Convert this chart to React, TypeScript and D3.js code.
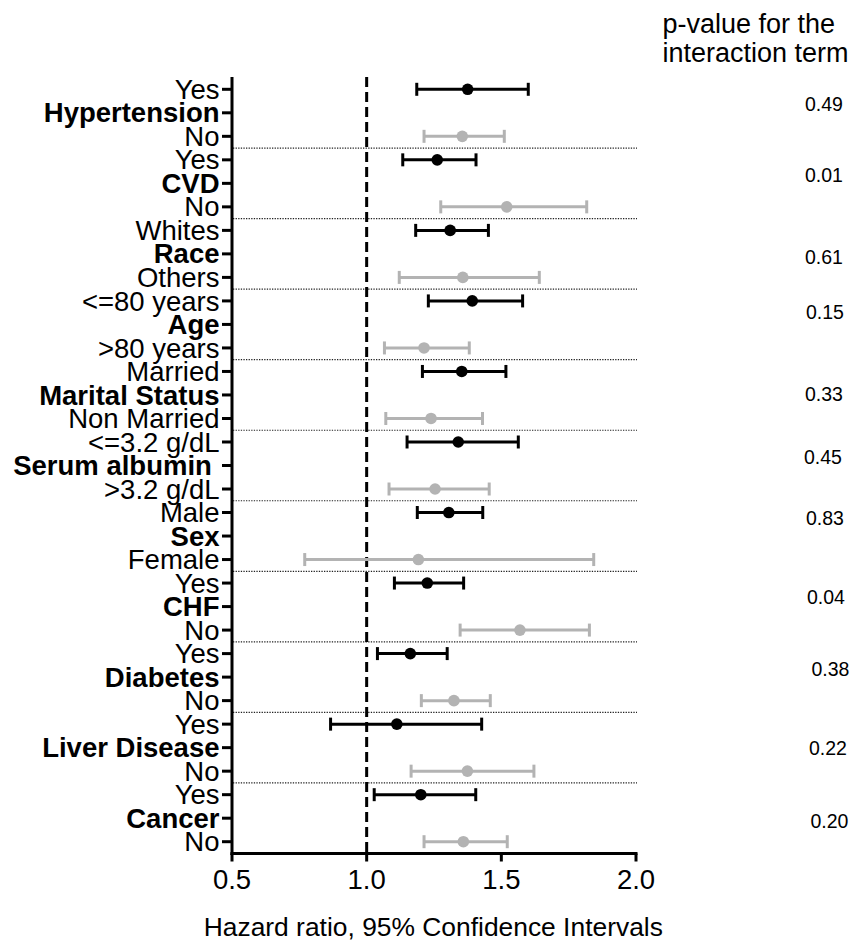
import React from "react";
import * as d3 from "d3";

// ---- Data ----
const groups = [
  "Hypertension", "CVD", "Race", "Age", "Marital Status", "Serum albumin\u00A0",
  "Sex", "CHF", "Diabetes", "Liver Disease", "Cancer",
];
const subgroupA = ["Yes", "Yes", "Whites", "<=80 years", "Married", "<=3.2 g/dL", "Male", "Yes", "Yes", "Yes", "Yes"];
const subgroupB = ["No", "No", "Others", ">80 years", "Non Married", ">3.2 g/dL", "Female", "No", "No", "No", "No"];

// Hazard ratio estimates and 95% CI for first subgroup (black)
const estA = [1.375, 1.262, 1.310, 1.392, 1.353, 1.340, 1.305, 1.225, 1.162, 1.112, 1.201];
const lowA = [1.186, 1.134, 1.182, 1.229, 1.207, 1.150, 1.188, 1.103, 1.040, 0.866, 1.028];
const highA = [1.600, 1.406, 1.452, 1.579, 1.517, 1.563, 1.431, 1.360, 1.299, 1.427, 1.405];

// second subgroup (grey)
const estB = [1.355, 1.520, 1.357, 1.213, 1.239, 1.254, 1.192, 1.569, 1.324, 1.374, 1.359];
const lowB = [1.213, 1.275, 1.121, 1.066, 1.071, 1.083, 0.770, 1.347, 1.203, 1.165, 1.213];
const highB = [1.511, 1.817, 1.641, 1.381, 1.430, 1.455, 1.843, 1.827, 1.459, 1.621, 1.522];

const pValues = ["0.49", "0.01", "0.61", "0.15", "0.33", "0.45", "0.83", "0.04", "0.38", "0.22", "0.20"];

const xTicks = [0.5, 1.0, 1.5, 2.0];
const xTitle = "Hazard ratio, 95% Confidence Intervals";
const pHeader = ["p-value for the", "interaction term"];

// annotation nudges for p-value labels (layout only)
const pNudge = [
  { dx: 0, dy: -8.6 }, { dx: 0, dy: -8 }, { dx: 0, dy: 3 }, { dx: 1, dy: -12 },
  { dx: 0, dy: -1 }, { dx: -1, dy: -9 }, { dx: 1, dy: -18 }, { dx: 2, dy: -10 },
  { dx: 6.5, dy: -8 }, { dx: 4, dy: 0 }, { dx: 5.5, dy: 3 },
];

const FONT = "'Liberation Sans', Arial, Helvetica, sans-serif";
const BLACK = "#000000";
const GREY = "#b3b3b3";

export default function App() {
  const W = 856, H = 945;
  const x = d3.scaleLinear().domain([0.5, 2.0]).range([232, 636]);

  type Row = { id: string; label: string; bold: boolean };
  const rows: Row[] = [];
  groups.forEach((g, i) => {
    rows.push({ id: `${i}-a`, label: subgroupA[i], bold: false });
    rows.push({ id: `${i}-g`, label: g, bold: true });
    rows.push({ id: `${i}-b`, label: subgroupB[i], bold: false });
  });
  const y = d3.scalePoint<string>().domain(rows.map((r) => r.id)).range([89.3, 841.7]);
  const step = y.step();

  const axisTop = 77;
  const axisBottom = 853.5;
  const capH = 6.5;

  const ci = (est: number, lo: number, hi: number, yy: number, color: string, key: string) => (
    <g key={key}>
      <line x1={x(lo)} x2={x(hi)} y1={yy} y2={yy} stroke={color} strokeWidth={3} />
      <line x1={x(lo)} x2={x(lo)} y1={yy - capH} y2={yy + capH} stroke={color} strokeWidth={3} />
      <line x1={x(hi)} x2={x(hi)} y1={yy - capH} y2={yy + capH} stroke={color} strokeWidth={3} />
      <circle cx={x(est)} cy={yy} r={5.8} fill={color} />
    </g>
  );

  return (
    <div style={{ position: "absolute", left: 0, top: 0 }}>
      <svg width={W} height={H} viewBox={`0 0 ${W} ${H}`} style={{ display: "block", background: "#fff" }}>
        <rect width={W} height={H} fill="#fff" />
        {/* separators */}
        {groups.slice(0, -1).map((_, i) => {
          const yy = (y(`${i}-b`)! + y(`${i + 1}-a`)!) / 2;
          return (
            <line key={`sep${i}`} x1={233} x2={637} y1={yy} y2={yy}
              stroke="#222" strokeWidth={1.2} strokeDasharray="1.3,1.3" />
          );
        })}
        {/* reference line at 1.0 */}
        <line x1={x(1)} x2={x(1)} y1={axisTop} y2={axisBottom} stroke="#000" strokeWidth={3}
          strokeDasharray="10,5" />
        {/* CI marks */}
        {groups.map((_, i) => (
          <g key={`g${i}`}>
            {ci(estA[i], lowA[i], highA[i], y(`${i}-a`)!, BLACK, `a${i}`)}
            {ci(estB[i], lowB[i], highB[i], y(`${i}-b`)!, GREY, `b${i}`)}
          </g>
        ))}
        {/* y axis */}
        <line x1={232} x2={232} y1={axisTop} y2={axisBottom + 1.5} stroke="#000" strokeWidth={3} />
        {rows.map((r) => (
          <g key={r.id}>
            <line x1={222} x2={232} y1={y(r.id)!} y2={y(r.id)!} stroke="#000" strokeWidth={3} />
            <text x={219.5} y={y(r.id)!} dy={9.6} textAnchor="end" fontFamily={FONT} fontSize={27.5}
              fontWeight={r.bold ? "bold" : "normal"} fill="#000" style={{ whiteSpace: "pre" }}>
              {r.label}
            </text>
          </g>
        ))}
        {/* x axis */}
        <line x1={230.5} x2={637.5} y1={axisBottom} y2={axisBottom} stroke="#000" strokeWidth={3} />
        {xTicks.map((t) => (
          <g key={`xt${t}`}>
            <line x1={x(t)} x2={x(t)} y1={axisBottom} y2={axisBottom + 8} stroke="#000" strokeWidth={3} />
            <text x={x(t)} y={889.3} textAnchor="middle" fontFamily={FONT} fontSize={27.5} fill="#000">
              {t.toFixed(1)}
            </text>
          </g>
        ))}
        <text x={433.3} y={935.5} textAnchor="middle" fontFamily={FONT} fontSize={26.4} fill="#000">
          {xTitle}
        </text>
        {/* p-value header */}
        {pHeader.map((s, i) => (
          <text key={`ph${i}`} x={662.5} y={33 + i * 29} fontFamily={FONT} fontSize={27} fill="#000">
            {s}
          </text>
        ))}
        {pValues.map((p, i) => {
          const cy = y(`${i}-g`)! + pNudge[i].dy;
          return (
            <text key={`p${i}`} x={805 + pNudge[i].dx} y={cy} dy={7} fontFamily={FONT} fontSize={19.5} fill="#000">
              {p}
            </text>
          );
        })}
      </svg>
    </div>
  );
}
